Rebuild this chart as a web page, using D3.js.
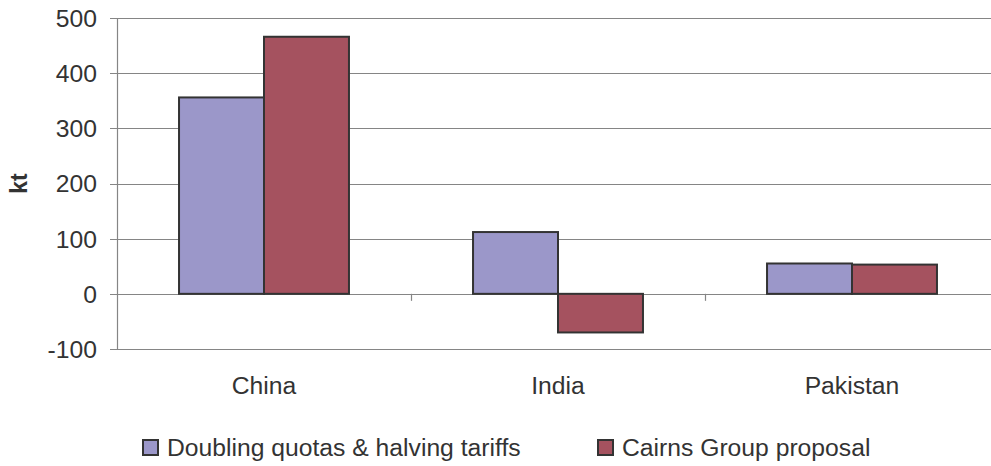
<!DOCTYPE html>
<html>
<head>
<meta charset="utf-8">
<script src="https://cdn.jsdelivr.net/npm/d3@7"></script>
<style>
  body { margin: 0; background: #fff; }
  svg { display: block; font-family: "Liberation Sans", Arial, sans-serif; }
</style>
</head>
<body>
<svg id="chart"></svg>
<script>
// chart data
const categories = ["China", "India", "Pakistan"];
const seriesNames = ["Doubling quotas & halving tariffs", "Cairns Group proposal"];
const doublingQuotas = [356, 112, 55];
const cairnsGroup = [466, -70, 53];
const yTicks = [-100, 0, 100, 200, 300, 400, 500];

const W = 991, H = 466;
const margin = { left: 117, top: 18, right: -8, bottom: 117 };
const colors = ["#9b97c9", "#a5525f"];
const textColor = "#333";
const fontSize = "24.7px";

const svg = d3.select("#chart").attr("width", W).attr("height", H);

const x = d3.scaleBand().domain(categories).range([margin.left, W - margin.right]).padding(0);
const inner = d3.scaleBand().domain([0, 1]).range([0, x.bandwidth()]).paddingOuter(0.73).paddingInner(0);
const y = d3.scaleLinear().domain([-100, 500]).range([H - margin.bottom, margin.top]);

// gridlines
svg.append("g").selectAll("line").data(yTicks).enter().append("line")
    .attr("x1", margin.left - 7).attr("x2", W)
    .attr("y1", d => Math.round(y(d)) + 0.5).attr("y2", d => Math.round(y(d)) + 0.5)
    .attr("stroke", "#858585").attr("stroke-width", 1.2);

// y axis line
svg.append("line")
    .attr("x1", margin.left + 0.5).attr("x2", margin.left + 0.5)
    .attr("y1", y(500)).attr("y2", y(-100))
    .attr("stroke", "#858585").attr("stroke-width", 1.2);

// y tick labels
svg.append("g").selectAll("text").data(yTicks).enter().append("text")
    .attr("x", 97).attr("y", d => y(d))
    .attr("dy", "0.36em").attr("text-anchor", "end")
    .attr("font-size", fontSize).attr("fill", textColor)
    .text(d => d);

// category tick marks below zero line
svg.append("g").selectAll("line").data(categories.slice(1)).enter().append("line")
    .attr("x1", d => Math.round(x(d)) + 0.5).attr("x2", d => Math.round(x(d)) + 0.5)
    .attr("y1", y(0)).attr("y2", y(0) + 7)
    .attr("stroke", "#858585").attr("stroke-width", 1.2);

// bars
const series = [doublingQuotas, cairnsGroup];
series.forEach((vals, si) => {
    svg.append("g").selectAll("rect").data(vals).enter().append("rect")
        .attr("x", (d, i) => x(categories[i]) + inner(si))
        .attr("y", d => y(Math.max(0, d)))
        .attr("width", inner.bandwidth())
        .attr("height", d => Math.abs(y(d) - y(0)))
        .attr("fill", colors[si])
        .attr("stroke", "#333")
        .attr("stroke-width", 2);
});

// category labels
svg.append("g").selectAll("text").data(categories).enter().append("text")
    .attr("x", d => x(d) + x.bandwidth() / 2).attr("y", 394)
    .attr("text-anchor", "middle")
    .attr("font-size", fontSize).attr("fill", textColor)
    .text(d => d);

// y axis title
svg.append("text")
    .attr("transform", `translate(27,${y(200)}) rotate(-90)`)
    .attr("text-anchor", "middle")
    .attr("font-size", "23px").attr("font-weight", "bold").attr("fill", textColor)
    .text("kt");

// legend
const legendX = [143, 598];
const legend = svg.append("g").selectAll("g").data(seriesNames).enter().append("g")
    .attr("transform", (d, i) => `translate(${legendX[i]},440)`);
legend.append("rect")
    .attr("width", 15).attr("height", 15)
    .attr("fill", (d, i) => colors[i])
    .attr("stroke", "#333").attr("stroke-width", 2);
legend.append("text")
    .attr("x", 24).attr("y", 16)
    .attr("font-size", fontSize).attr("fill", textColor)
    .text(d => d);
</script>
</body>
</html>
